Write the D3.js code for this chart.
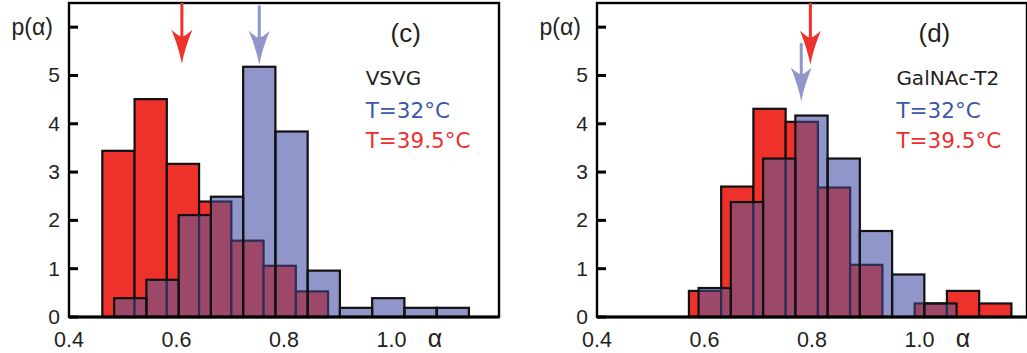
<!DOCTYPE html>
<html>
<head>
<style>
  body { margin: 0; background: #fff; }
  svg { display: block; }
</style>
</head>
<body>
<script src="https://cdn.jsdelivr.net/npm/d3@7/dist/d3.min.js"></script>
<script>
// axis ticks
const xTicks = [0.4, 0.6, 0.8, 1.0];
const xTickLabels = ['0.4', '0.6', '0.8', '1.0'];
const yTicks = [0, 1, 2, 3, 4, 5, 6];
const yTickLabels = ['0', '1', '2', '3', '4', '5', ''];

// panel (c): VSVG, bin edges and p(alpha)
const vsvgEdges32 = [0.484, 0.544, 0.604, 0.664, 0.724, 0.784, 0.844, 0.904, 0.964, 1.024, 1.084, 1.144];
const vsvgP32 = [0.39, 0.77, 2.11, 2.49, 5.18, 3.84, 0.96, 0.19, 0.39, 0.19, 0.19];
const vsvgEdges395 = [0.462, 0.522, 0.582, 0.642, 0.702, 0.762, 0.822, 0.882];
const vsvgP395 = [3.44, 4.51, 3.17, 2.39, 1.58, 1.06, 0.53];
const vsvgMeans = [0.754, 0.61];        // arrows: [32°C, 39.5°C]
const vsvgArrowTip = [5.22, 5.24];
const vsvgArrowTop = [6.45, 6.5];

// panel (d): GalNAc-T2
const galEdges32 = [0.589, 0.649, 0.709, 0.769, 0.829, 0.889, 0.949, 1.009, 1.069];
const galP32 = [0.60, 2.38, 3.28, 4.17, 3.28, 1.78, 0.88, 0.28];
const galEdges395 = [0.571, 0.631, 0.691, 0.751, 0.811, 0.871, 0.931, 0.991, 1.051, 1.111, 1.171];
const galP395 = [0.54, 2.70, 4.31, 4.04, 2.68, 1.08, 0, 0.28, 0.54, 0.28];
const galMeans = [0.780, 0.797];
const galArrowTip = [4.46, 5.22];
const galArrowTop = [5.67, 6.5];

const legendLabels = ['T=32°C', 'T=39.5°C'];

const width = 1027, height = 353;
const blue = '#9196CA', red = '#EE312B', purple = '#9D4868', navy = '#2B2E55';
const textBlue = '#3B57A7', textRed = '#EE2E2E', ink = '#231F20';
const sans = 'Liberation Sans, Arial, sans-serif';

const svg = d3.select('body').append('svg')
  .attr('width', width)
  .attr('height', height);

const toBins = (edges, p) => p.map((v, i) => ({ x0: edges[i], x1: edges[i + 1], p: v }));

function drawPanel(cfg) {
  const x = d3.scaleLinear().domain([0.4, 1.2]).range([cfg.left, cfg.left + 430]);
  const y = d3.scaleLinear().domain([0, 6.5]).range([317, 3]);
  const g = svg.append('g');

  const blueBins = toBins(cfg.edges32, cfg.p32);
  const redBins = toBins(cfg.edges395, cfg.p395).filter(d => d.p > 0);

  const rect = (sel) => sel
    .attr('x', d => x(d.x0))
    .attr('y', d => y(d.p))
    .attr('width', d => x(d.x1) - x(d.x0))
    .attr('height', d => y(0) - y(d.p));

  // clip = area of the 32°C bars
  g.append('clipPath').attr('id', cfg.id)
    .selectAll('rect').data(blueBins).join('rect').call(rect);

  // 39.5°C bars
  g.append('g').selectAll('rect').data(redBins).join('rect').call(rect)
    .attr('fill', red).attr('stroke', '#111').attr('stroke-width', 2.2);

  // 32°C fills
  g.append('g').selectAll('rect').data(blueBins).join('rect').call(rect)
    .attr('fill', blue);

  // overlap
  g.append('g').attr('clip-path', `url(#${cfg.id})`)
    .selectAll('rect').data(redBins).join('rect').call(rect)
    .attr('fill', purple).attr('stroke', navy).attr('stroke-width', 2.2);

  // 32°C outlines
  g.append('g').selectAll('rect').data(blueBins).join('rect').call(rect)
    .attr('fill', 'none').attr('stroke', '#111').attr('stroke-width', 2.2);

  // frame
  g.append('rect')
    .attr('x', x(0.4)).attr('y', y(6.5))
    .attr('width', x(1.2) - x(0.4)).attr('height', y(0) - y(6.5))
    .attr('fill', 'none').attr('stroke', '#000').attr('stroke-width', 2.4);
  g.append('line')
    .attr('x1', x(0.4)).attr('x2', x(1.2)).attr('y1', y(0)).attr('y2', y(0))
    .attr('stroke', '#000').attr('stroke-width', 3.2);

  // y ticks
  g.append('g').selectAll('line').data(yTicks).join('line')
    .attr('x1', x(0.4)).attr('x2', x(0.4) + 9)
    .attr('y1', d => y(d)).attr('y2', d => y(d))
    .attr('stroke', '#000').attr('stroke-width', 3);
  g.append('g').selectAll('text').data(yTicks).join('text')
    .attr('x', x(0.4) - 9).attr('y', d => y(d) + 7)
    .attr('text-anchor', 'end')
    .attr('font-family', sans)
    .attr('font-size', 21).attr('fill', ink)
    .text((d, i) => yTickLabels[i]);

  // x tick labels
  g.append('g').selectAll('text').data(xTicks).join('text')
    .attr('x', d => x(d)).attr('y', 347)
    .attr('text-anchor', 'middle')
    .attr('font-family', sans)
    .attr('font-size', 21.5).attr('fill', ink)
    .text((d, i) => xTickLabels[i]);

  // axis titles
  g.append('text')
    .attr('x', x(0.4) - 16).attr('y', y(6) + 8)
    .attr('text-anchor', 'end')
    .attr('font-family', sans)
    .attr('font-size', 23).attr('fill', ink)
    .text('p(α)');
  g.append('text')
    .attr('x', x(1.081)).attr('y', 347)
    .attr('text-anchor', 'middle')
    .attr('font-family', sans)
    .attr('font-size', 25).attr('fill', ink)
    .text('α');

  // mean arrows
  const head = 'M0,0 Q-3,-16 -10.5,-34 Q-4,-28 0,-27 Q4,-28 10.5,-34 Q3,-16 0,0 Z';
  const arrowColors = [blue, red];
  cfg.means.forEach((m, i) => {
    const a = g.append('g').attr('transform', `translate(${x(m)},${y(cfg.tip[i])})`);
    a.append('line')
      .attr('x1', 0).attr('x2', 0)
      .attr('y1', y(cfg.top[i]) - y(cfg.tip[i])).attr('y2', -26)
      .attr('stroke', arrowColors[i]).attr('stroke-width', 3);
    a.append('path').attr('d', head).attr('fill', arrowColors[i]);
  });

  // panel label and legend
  const lx = x(cfg.legendAlpha);
  g.append('text')
    .attr('x', x(cfg.labelAlpha) - 1).attr('y', 42)
    .attr('font-family', sans)
    .attr('font-size', 26).attr('fill', ink)
    .text(cfg.label);
  g.append('text')
    .attr('x', lx).attr('y', 85)
    .attr('font-family', 'DejaVu Sans, sans-serif')
    .attr('font-size', 20).attr('fill', ink)
    .text(cfg.name);
  g.append('g').selectAll('text').data(legendLabels).join('text')
    .attr('x', lx).attr('y', (d, i) => 118 + i * 30)
    .attr('font-family', 'DejaVu Sans, sans-serif')
    .attr('font-size', 21.5)
    .attr('fill', (d, i) => [textBlue, textRed][i])
    .text(d => d);
}

drawPanel({
  id: 'clipC', left: 69, label: '(c)', name: 'VSVG',
  labelAlpha: 1.0, legendAlpha: 0.952,
  edges32: vsvgEdges32, p32: vsvgP32, edges395: vsvgEdges395, p395: vsvgP395,
  means: vsvgMeans, tip: vsvgArrowTip, top: vsvgArrowTop
});

drawPanel({
  id: 'clipD', left: 597, label: '(d)', name: 'GalNAc-T2',
  labelAlpha: 1.0, legendAlpha: 0.957,
  edges32: galEdges32, p32: galP32, edges395: galEdges395, p395: galP395,
  means: galMeans, tip: galArrowTip, top: galArrowTop
});
</script>
</body>
</html>
